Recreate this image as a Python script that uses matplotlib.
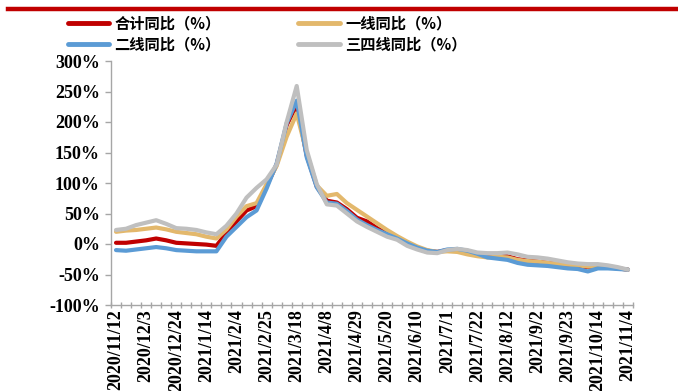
import matplotlib
matplotlib.use("Agg")
import matplotlib.pyplot as plt
from matplotlib.ticker import FixedLocator, FuncFormatter
from matplotlib.lines import Line2D

dates = ["2020/11/12", "2020/11/19", "2020/11/26", "2020/12/3", "2020/12/10", "2020/12/17",
         "2020/12/24", "2020/12/31", "2021/1/7", "2021/1/14", "2021/1/21", "2021/1/28",
         "2021/2/4", "2021/2/11", "2021/2/18", "2021/2/25", "2021/3/4", "2021/3/11",
         "2021/3/18", "2021/3/25", "2021/4/1", "2021/4/8", "2021/4/15", "2021/4/22",
         "2021/4/29", "2021/5/6", "2021/5/13", "2021/5/20", "2021/5/27", "2021/6/3",
         "2021/6/10", "2021/6/17", "2021/6/24", "2021/7/1", "2021/7/8", "2021/7/15",
         "2021/7/22", "2021/7/29", "2021/8/5", "2021/8/12", "2021/8/19", "2021/8/26",
         "2021/9/2", "2021/9/9", "2021/9/16", "2021/9/23", "2021/9/30", "2021/10/7",
         "2021/10/14", "2021/10/21", "2021/10/28", "2021/11/4"]

total = [2, 2, 4, 6, 9, 6, 2, 1, 0, -1, -3, 18, 37, 55, 62, 95, 130, 195, 228, 145,
         94, 71, 68, 57, 43, 37, 26, 17, 11, 1, -6, -11, -13, -10, -10, -13, -17, -19,
         -19, -20, -25, -27, -29, -31, -33, -35, -36, -38, -37, -38, -40, -42]
tier1 = [20, 22, 23, 25, 27, 24, 20, 18, 16, 12, 9, 24, 45, 62, 67, 98, 128, 176, 214, 149,
         96, 79, 82, 67, 56, 45, 34, 23, 13, 4, -4, -10, -13, -12, -13, -17, -20, -22,
         -21, -22, -26, -28, -29, -31, -33, -34, -35, -37, -37, -38, -40, -42]
tier2 = [-10, -11, -9, -7, -5, -7, -10, -11, -12, -12, -12, 12, 28, 44, 55, 91, 132, 198, 235, 142,
         93, 68, 66, 54, 40, 31, 23, 16, 9, 1, -6, -11, -13, -9, -8, -11, -16, -22,
         -24, -26, -31, -34, -35, -36, -38, -40, -41, -45, -40, -40, -41, -42]
tier34 = [23, 25, 31, 35, 39, 33, 26, 25, 23, 19, 16, 30, 50, 76, 92, 106, 130, 200, 259, 154,
          98, 65, 63, 50, 37, 28, 20, 12, 7, -3, -9, -14, -15, -10, -8, -10, -14, -15,
          -15, -14, -17, -21, -22, -24, -27, -30, -32, -33, -33, -35, -38, -42]

names = ["合计同比（%）", "一线同比（%）", "二线同比（%）", "三四线同比（%）"]
colors = ["#C00000", "#E3B86C", "#5B9BD5", "#BFBFBF"]

yticks = [-100, -50, 0, 50, 100, 150, 200, 250, 300]

cjk = ["Noto Sans CJK SC", "DejaVu Sans"]
serif = "Liberation Serif"

fig = plt.figure(figsize=(6.78, 3.91), dpi=100)
ax = fig.add_axes([111/678, 1-305/391, (633-111)/678, (305-61)/391])

x = list(range(len(dates)))
lines = []
for vals, c in zip([total, tier1, tier2, tier34], colors):
    ln, = ax.plot(x, vals, color=c, lw=3.0, solid_joinstyle="round", solid_capstyle="round")
    lines.append(ln)

ax.set_xlim(-0.5, len(dates) - 0.5)
ax.set_ylim(-100, 300)
ax.set_yticks(yticks)
ax.yaxis.set_major_formatter(FuncFormatter(lambda v, p: f"{int(v)}%"))
for lab in ax.get_yticklabels():
    lab.set_fontfamily(serif)
    lab.set_fontweight("bold")
    lab.set_fontsize(13)

ax.set_xticks(x[::3])
ax.set_xticklabels(dates[::3], rotation=90, fontfamily=serif, fontweight="bold", fontsize=13)
ax.xaxis.set_minor_locator(FixedLocator([i + 0.5 for i in range(-1, len(dates))]))
ax.tick_params(axis="x", which="major", length=0, pad=3)
ax.tick_params(axis="x", which="minor", length=4, direction="inout", color="#A6A6A6", width=1)
ax.tick_params(axis="y", which="major", length=4, direction="out", color="#A6A6A6", width=1, pad=4)

for s in ["top", "right"]:
    ax.spines[s].set_visible(False)
for s in ["left", "bottom"]:
    ax.spines[s].set_color("#A6A6A6")
    ax.spines[s].set_linewidth(1)

# Top decorative red rule
fig.add_artist(Line2D([8/678, 1.0], [1-8.5/391, 1-8.5/391], color="#C00000", lw=3.2,
                      transform=fig.transFigure))

leg = fig.legend([lines[0], lines[2], lines[1], lines[3]],
                 [names[0], names[2], names[1], names[3]],
                 ncol=2, loc="upper left", bbox_to_anchor=(57/678, 1-5/391),
                 frameon=False, prop={"family": cjk, "weight": "bold", "size": 11},
                 handlelength=2.7, handletextpad=0.35, columnspacing=5.1,
                 labelspacing=0.3, borderpad=0.2)
for h in leg.legend_handles:
    h.set_linewidth(3.5)

fig.savefig("out.png", dpi=100)
